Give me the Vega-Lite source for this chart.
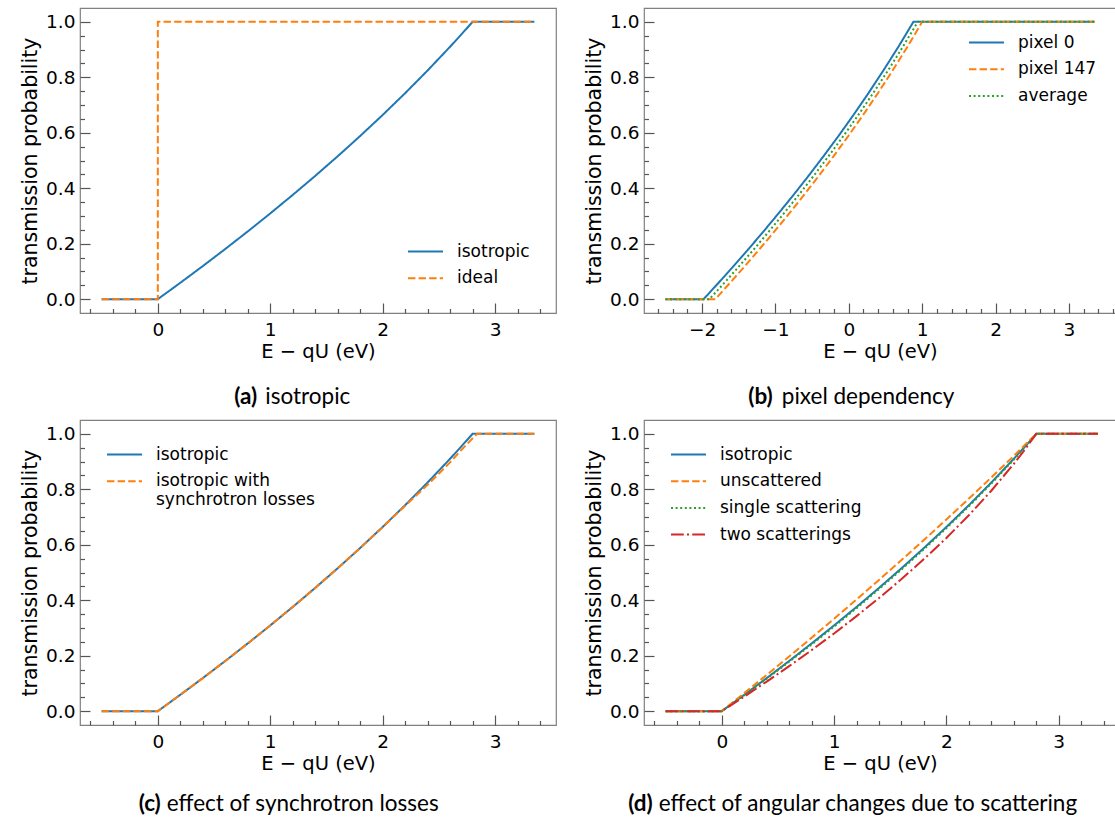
{
"$schema": "https://vega.github.io/schema/vega-lite/v6.json",
"padding": {"left": 19, "top": 7, "right": 0, "bottom": 0},
"background": "white",
"config": {
  "font": "DejaVu Sans",
  "view": {"stroke": "#808080", "strokeWidth": 1.2},
  "axis": {"domain": false, "grid": false, "labelFont": "DejaVu Sans", "labelFontSize": 18.5, "labelColor": "#000", "titleFont": "DejaVu Sans", "titleFontSize": 19.5, "titleFontWeight": "normal", "titleColor": "#000", "tickColor": "#555", "tickWidth": 1.2},
  "axisLeft": {"titleFontSize": 20.5},
  "legend": {"labelFont": "DejaVu Sans", "labelFontSize": 17, "labelColor": "#000", "symbolStrokeWidth": 2, "symbolSize": 1225, "symbolType": "stroke", "clipHeight": 17, "rowPadding": 8.7, "labelOffset": 13, "padding": 0, "offset": 26, "labelLimit": 300},
  "title": {"font": "Lato", "fontSize": 22.5, "color": "#000"}
},
"datasets": {
 "a": [
  {"s":"isotropic","i":0,"x":-0.5,"y":0},{"s":"isotropic","i":1,"x":0,"y":0},{"s":"isotropic","i":2,"x":0.2,"y":0.0589},{"s":"isotropic","i":3,"x":0.4,"y":0.1192},{"s":"isotropic","i":4,"x":0.6,"y":0.1809},{"s":"isotropic","i":5,"x":0.8,"y":0.2442},{"s":"isotropic","i":6,"x":1,"y":0.3091},{"s":"isotropic","i":7,"x":1.2,"y":0.3758},{"s":"isotropic","i":8,"x":1.4,"y":0.4444},{"s":"isotropic","i":9,"x":1.6,"y":0.5152},{"s":"isotropic","i":10,"x":1.8,"y":0.5883},{"s":"isotropic","i":11,"x":2,"y":0.6641},{"s":"isotropic","i":12,"x":2.2,"y":0.7427},{"s":"isotropic","i":13,"x":2.4,"y":0.8246},{"s":"isotropic","i":14,"x":2.6,"y":0.9102},{"s":"isotropic","i":15,"x":2.7,"y":0.9545},{"s":"isotropic","i":16,"x":2.8,"y":1},{"s":"isotropic","i":17,"x":3.35,"y":1},
  {"s":"ideal","i":0,"x":-0.5,"y":0},{"s":"ideal","i":1,"x":0,"y":0},{"s":"ideal","i":2,"x":0,"y":1},{"s":"ideal","i":3,"x":3.35,"y":1}
 ],
 "b": [
  {"s":"pixel 0","i":0,"x":-2.5,"y":0},{"s":"pixel 0","i":1,"x":-1.98,"y":0},{"s":"pixel 0","i":2,"x":-1.776,"y":0.0589},{"s":"pixel 0","i":3,"x":-1.571,"y":0.1192},{"s":"pixel 0","i":4,"x":-1.367,"y":0.1809},{"s":"pixel 0","i":5,"x":-1.163,"y":0.2442},{"s":"pixel 0","i":6,"x":-0.959,"y":0.3091},{"s":"pixel 0","i":7,"x":-0.754,"y":0.3758},{"s":"pixel 0","i":8,"x":-0.55,"y":0.4444},{"s":"pixel 0","i":9,"x":-0.346,"y":0.5152},{"s":"pixel 0","i":10,"x":-0.141,"y":0.5883},{"s":"pixel 0","i":11,"x":0.063,"y":0.6641},{"s":"pixel 0","i":12,"x":0.267,"y":0.7427},{"s":"pixel 0","i":13,"x":0.471,"y":0.8246},{"s":"pixel 0","i":14,"x":0.676,"y":0.9102},{"s":"pixel 0","i":15,"x":0.88,"y":1},{"s":"pixel 0","i":16,"x":3.35,"y":1},
  {"s":"pixel 147","i":0,"x":-2.5,"y":0},{"s":"pixel 147","i":1,"x":-1.82,"y":0},{"s":"pixel 147","i":2,"x":-1.619,"y":0.0589},{"s":"pixel 147","i":3,"x":-1.417,"y":0.1192},{"s":"pixel 147","i":4,"x":-1.216,"y":0.1809},{"s":"pixel 147","i":5,"x":-1.014,"y":0.2442},{"s":"pixel 147","i":6,"x":-0.813,"y":0.3091},{"s":"pixel 147","i":7,"x":-0.611,"y":0.3758},{"s":"pixel 147","i":8,"x":-0.41,"y":0.4444},{"s":"pixel 147","i":9,"x":-0.209,"y":0.5152},{"s":"pixel 147","i":10,"x":-0.007,"y":0.5883},{"s":"pixel 147","i":11,"x":0.194,"y":0.6641},{"s":"pixel 147","i":12,"x":0.396,"y":0.7427},{"s":"pixel 147","i":13,"x":0.597,"y":0.8246},{"s":"pixel 147","i":14,"x":0.799,"y":0.9102},{"s":"pixel 147","i":15,"x":1.0,"y":1},{"s":"pixel 147","i":16,"x":3.35,"y":1},
  {"s":"average","i":0,"x":-2.5,"y":0},{"s":"average","i":1,"x":-1.9,"y":0},{"s":"average","i":2,"x":-1.697,"y":0.0589},{"s":"average","i":3,"x":-1.494,"y":0.1192},{"s":"average","i":4,"x":-1.291,"y":0.1809},{"s":"average","i":5,"x":-1.089,"y":0.2442},{"s":"average","i":6,"x":-0.886,"y":0.3091},{"s":"average","i":7,"x":-0.683,"y":0.3758},{"s":"average","i":8,"x":-0.48,"y":0.4444},{"s":"average","i":9,"x":-0.277,"y":0.5152},{"s":"average","i":10,"x":-0.074,"y":0.5883},{"s":"average","i":11,"x":0.129,"y":0.6641},{"s":"average","i":12,"x":0.331,"y":0.7427},{"s":"average","i":13,"x":0.534,"y":0.8246},{"s":"average","i":14,"x":0.737,"y":0.9102},{"s":"average","i":15,"x":0.94,"y":1},{"s":"average","i":16,"x":3.35,"y":1}
 ],
 "c": [
  {"s":"isotropic","i":0,"x":-0.5,"y":0},{"s":"isotropic","i":1,"x":0,"y":0},{"s":"isotropic","i":2,"x":0.2,"y":0.0589},{"s":"isotropic","i":3,"x":0.4,"y":0.1192},{"s":"isotropic","i":4,"x":0.6,"y":0.1809},{"s":"isotropic","i":5,"x":0.8,"y":0.2442},{"s":"isotropic","i":6,"x":1,"y":0.3091},{"s":"isotropic","i":7,"x":1.2,"y":0.3758},{"s":"isotropic","i":8,"x":1.4,"y":0.4444},{"s":"isotropic","i":9,"x":1.6,"y":0.5152},{"s":"isotropic","i":10,"x":1.8,"y":0.5883},{"s":"isotropic","i":11,"x":2,"y":0.6641},{"s":"isotropic","i":12,"x":2.2,"y":0.7427},{"s":"isotropic","i":13,"x":2.4,"y":0.8246},{"s":"isotropic","i":14,"x":2.6,"y":0.9102},{"s":"isotropic","i":15,"x":2.7,"y":0.9545},{"s":"isotropic","i":16,"x":2.8,"y":1},{"s":"isotropic","i":17,"x":3.35,"y":1},
  {"s":"isotropic with synchrotron losses","i":0,"x":-0.5,"y":0},{"s":"isotropic with synchrotron losses","i":1,"x":0,"y":0},{"s":"isotropic with synchrotron losses","i":2,"x":0.2,"y":0.0589},{"s":"isotropic with synchrotron losses","i":3,"x":0.4,"y":0.1192},{"s":"isotropic with synchrotron losses","i":4,"x":0.6,"y":0.1809},{"s":"isotropic with synchrotron losses","i":5,"x":0.8,"y":0.2442},{"s":"isotropic with synchrotron losses","i":6,"x":1,"y":0.3091},{"s":"isotropic with synchrotron losses","i":7,"x":1.2,"y":0.3758},{"s":"isotropic with synchrotron losses","i":8,"x":1.4,"y":0.4444},{"s":"isotropic with synchrotron losses","i":9,"x":1.6,"y":0.5152},{"s":"isotropic with synchrotron losses","i":10,"x":1.8,"y":0.5883},{"s":"isotropic with synchrotron losses","i":11,"x":2,"y":0.6635},{"s":"isotropic with synchrotron losses","i":12,"x":2.2,"y":0.7405},{"s":"isotropic with synchrotron losses","i":13,"x":2.4,"y":0.816},{"s":"isotropic with synchrotron losses","i":14,"x":2.6,"y":0.897},{"s":"isotropic with synchrotron losses","i":15,"x":2.7,"y":0.942},{"s":"isotropic with synchrotron losses","i":16,"x":2.84,"y":1},{"s":"isotropic with synchrotron losses","i":17,"x":3.35,"y":1}
 ],
 "d": [
  {"s":"isotropic","i":0,"x":-0.5,"y":0},{"s":"isotropic","i":1,"x":0,"y":0},{"s":"isotropic","i":2,"x":0.2,"y":0.0589},{"s":"isotropic","i":3,"x":0.4,"y":0.1192},{"s":"isotropic","i":4,"x":0.6,"y":0.1809},{"s":"isotropic","i":5,"x":0.8,"y":0.2442},{"s":"isotropic","i":6,"x":1,"y":0.3091},{"s":"isotropic","i":7,"x":1.2,"y":0.3758},{"s":"isotropic","i":8,"x":1.4,"y":0.4444},{"s":"isotropic","i":9,"x":1.6,"y":0.5152},{"s":"isotropic","i":10,"x":1.8,"y":0.5883},{"s":"isotropic","i":11,"x":2,"y":0.6641},{"s":"isotropic","i":12,"x":2.2,"y":0.7427},{"s":"isotropic","i":13,"x":2.4,"y":0.8246},{"s":"isotropic","i":14,"x":2.6,"y":0.9102},{"s":"isotropic","i":15,"x":2.7,"y":0.9545},{"s":"isotropic","i":16,"x":2.8,"y":1},{"s":"isotropic","i":17,"x":3.35,"y":1},
  {"s":"unscattered","i":0,"x":-0.5,"y":0},{"s":"unscattered","i":1,"x":0,"y":0},{"s":"unscattered","i":2,"x":0.2,"y":0.0649},{"s":"unscattered","i":3,"x":0.4,"y":0.1307},{"s":"unscattered","i":4,"x":0.6,"y":0.1973},{"s":"unscattered","i":5,"x":0.8,"y":0.2648},{"s":"unscattered","i":6,"x":1,"y":0.3333},{"s":"unscattered","i":7,"x":1.2,"y":0.4028},{"s":"unscattered","i":8,"x":1.4,"y":0.4733},{"s":"unscattered","i":9,"x":1.6,"y":0.5448},{"s":"unscattered","i":10,"x":1.8,"y":0.6175},{"s":"unscattered","i":11,"x":2,"y":0.6914},{"s":"unscattered","i":12,"x":2.2,"y":0.7665},{"s":"unscattered","i":13,"x":2.4,"y":0.8429},{"s":"unscattered","i":14,"x":2.6,"y":0.9207},{"s":"unscattered","i":15,"x":2.8,"y":1},{"s":"unscattered","i":16,"x":3.35,"y":1},
  {"s":"single scattering","i":0,"x":-0.5,"y":0},{"s":"single scattering","i":1,"x":0,"y":0},{"s":"single scattering","i":2,"x":0.2,"y":0.0575},{"s":"single scattering","i":3,"x":0.4,"y":0.117},{"s":"single scattering","i":4,"x":0.6,"y":0.178},{"s":"single scattering","i":5,"x":0.8,"y":0.2405},{"s":"single scattering","i":6,"x":1,"y":0.305},{"s":"single scattering","i":7,"x":1.2,"y":0.3715},{"s":"single scattering","i":8,"x":1.4,"y":0.44},{"s":"single scattering","i":9,"x":1.6,"y":0.511},{"s":"single scattering","i":10,"x":1.8,"y":0.584},{"s":"single scattering","i":11,"x":2,"y":0.66},{"s":"single scattering","i":12,"x":2.2,"y":0.739},{"s":"single scattering","i":13,"x":2.4,"y":0.821},{"s":"single scattering","i":14,"x":2.6,"y":0.907},{"s":"single scattering","i":15,"x":2.7,"y":0.952},{"s":"single scattering","i":16,"x":2.8,"y":1},{"s":"single scattering","i":17,"x":3.35,"y":1},
  {"s":"two scatterings","i":0,"x":-0.5,"y":0},{"s":"two scatterings","i":1,"x":0,"y":0},{"s":"two scatterings","i":2,"x":0.2,"y":0.0524},{"s":"two scatterings","i":3,"x":0.4,"y":0.1065},{"s":"two scatterings","i":4,"x":0.6,"y":0.1623},{"s":"two scatterings","i":5,"x":0.8,"y":0.2201},{"s":"two scatterings","i":6,"x":1,"y":0.2801},{"s":"two scatterings","i":7,"x":1.2,"y":0.3426},{"s":"two scatterings","i":8,"x":1.4,"y":0.4078},{"s":"two scatterings","i":9,"x":1.6,"y":0.4762},{"s":"two scatterings","i":10,"x":1.8,"y":0.5483},{"s":"two scatterings","i":11,"x":2,"y":0.6247},{"s":"two scatterings","i":12,"x":2.2,"y":0.7065},{"s":"two scatterings","i":13,"x":2.4,"y":0.7949},{"s":"two scatterings","i":14,"x":2.6,"y":0.8917},{"s":"two scatterings","i":15,"x":2.7,"y":0.9441},{"s":"two scatterings","i":16,"x":2.8,"y":1},{"s":"two scatterings","i":17,"x":3.35,"y":1}
 ]
},
"columns": 2,
"align": "none",
"spacing": {"row": 10, "column": 26},
"resolve": {"scale": {"color": "independent", "strokeDash": "independent"}, "legend": {"color": "independent", "strokeDash": "independent"}},
"concat": [
   {
    "title": {"text": "(a)", "orient": "bottom", "anchor": "middle", "align": "right", "dx": -31, "dy": -22.5, "offset": 0, "frame": "bounds", "fontWeight": "bold"},
    "resolve": {"scale": {"color": "independent", "strokeDash": "independent"}, "legend": {"color": "independent", "strokeDash": "independent"}},
    "vconcat": [
     {
      "title": {"text": "isotropic", "orient": "bottom", "anchor": "middle", "align": "left", "dx": -23, "offset": 24, "frame": "bounds", "fontWeight": "normal"},
      "resolve": {"scale": {"color": "independent", "strokeDash": "independent"}, "legend": {"color": "independent", "strokeDash": "independent"}},
      "vconcat": [
       {
        "data": {"name": "a"},
        "width": 476, "height": 305,
        "encoding": {
          "x": {"field": "x", "type": "quantitative", "scale": {"domain": [-0.6925, 3.5425], "nice": false, "zero": false}, "axis": null},
          "y": {"field": "y", "type": "quantitative", "scale": {"domain": [-0.05, 1.05], "nice": false, "zero": false}, "axis": null},
          "color": {"field": "s", "type": "nominal", "scale": {"domain": ["isotropic", "ideal"], "range": ["#1f77b4", "#ff7f0e"]}, "legend": {"title": null, "orient": "bottom-right"}},
          "strokeDash": {"field": "s", "type": "nominal", "scale": {"domain": ["isotropic", "ideal"], "range": [[1, 0], [7.4, 3.2]]}, "legend": {"title": null, "orient": "bottom-right"}},
          "order": {"field": "i", "type": "quantitative"}
        },
        "layer": [
          {"transform": [{"filter": {"field": "s", "equal": "isotropic"}}], "mark": {"type": "line", "strokeWidth": 2},
           "encoding": {
            "x": {"field": "x", "type": "quantitative", "scale": {"domain": [-0.6925, 3.5425], "nice": false, "zero": false}, "axis": {"orient": "bottom", "values": [0, 1, 2, 3], "format": "d", "tickSize": -10, "labelPadding": 17, "title": "E − qU (eV)", "titlePadding": 4}},
            "y": {"field": "y", "type": "quantitative", "scale": {"domain": [-0.05, 1.05], "nice": false, "zero": false}, "axis": {"orient": "left", "values": [0, 0.2, 0.4, 0.6, 0.8, 1], "format": ".1f", "tickSize": -10, "labelPadding": 15, "title": "transmission probability", "titlePadding": 5}}
           }},
          {"transform": [{"filter": {"field": "s", "equal": "ideal"}}], "mark": {"type": "line", "strokeWidth": 2},
           "encoding": {
            "x": {"field": "x", "type": "quantitative", "scale": {"domain": [-0.6925, 3.5425], "nice": false, "zero": false}, "axis": {"orient": "bottom", "values": [-0.6, -0.4, -0.2, 0.2, 0.4, 0.6, 0.8, 1.2, 1.4, 1.6, 1.8, 2.2, 2.4, 2.6, 2.8, 3.2, 3.4], "labels": false, "tickSize": -4.5, "title": null}},
            "y": {"field": "y", "type": "quantitative", "scale": {"domain": [-0.05, 1.05], "nice": false, "zero": false}, "axis": {"orient": "left", "values": [0.05, 0.1, 0.15, 0.25, 0.3, 0.35, 0.45, 0.5, 0.55, 0.65, 0.7, 0.75, 0.85, 0.9, 0.95], "labels": false, "tickSize": -4.5, "title": null}}
           }}
        ],
        "resolve": {"axis": {"x": "independent", "y": "independent"}}
       }
      ]
     }
    ]
   },
   {
    "title": {"text": "(b)", "orient": "bottom", "anchor": "middle", "align": "right", "dx": -77.5, "dy": -22.5, "offset": 0, "frame": "bounds", "fontWeight": "bold"},
    "resolve": {"scale": {"color": "independent", "strokeDash": "independent"}, "legend": {"color": "independent", "strokeDash": "independent"}},
    "vconcat": [
     {
      "title": {"text": "pixel dependency", "orient": "bottom", "anchor": "middle", "align": "left", "dx": -68.5, "offset": 24, "frame": "bounds", "fontWeight": "normal"},
      "resolve": {"scale": {"color": "independent", "strokeDash": "independent"}, "legend": {"color": "independent", "strokeDash": "independent"}},
      "vconcat": [
       {
        "data": {"name": "b"},
        "width": 472, "height": 305,
        "encoding": {
          "x": {"field": "x", "type": "quantitative", "scale": {"domain": [-2.7925, 3.6425], "nice": false, "zero": false}, "axis": null},
          "y": {"field": "y", "type": "quantitative", "scale": {"domain": [-0.05, 1.05], "nice": false, "zero": false}, "axis": null},
          "color": {"field": "s", "type": "nominal", "scale": {"domain": ["pixel 0", "pixel 147", "average"], "range": ["#1f77b4", "#ff7f0e", "#2ca02c"]}, "legend": {"title": null, "orient": "none", "legendX": 324, "legendY": 26}},
          "strokeDash": {"field": "s", "type": "nominal", "scale": {"domain": ["pixel 0", "pixel 147", "average"], "range": [[1, 0], [7.4, 3.2], [2, 2.6]]}, "legend": {"title": null, "orient": "none", "legendX": 324, "legendY": 26}},
          "order": {"field": "i", "type": "quantitative"}
        },
        "layer": [
          {"transform": [{"filter": {"field": "s", "equal": "pixel 0"}}], "mark": {"type": "line", "strokeWidth": 2},
           "encoding": {
            "x": {"field": "x", "type": "quantitative", "scale": {"domain": [-2.7925, 3.6425], "nice": false, "zero": false}, "axis": {"orient": "bottom", "values": [-2, -1, 0, 1, 2, 3], "format": "d", "tickSize": -10, "labelPadding": 17, "title": "E − qU (eV)", "titlePadding": 4}},
            "y": {"field": "y", "type": "quantitative", "scale": {"domain": [-0.05, 1.05], "nice": false, "zero": false}, "axis": {"orient": "left", "values": [0, 0.2, 0.4, 0.6, 0.8, 1], "format": ".1f", "tickSize": -10, "labelPadding": 15, "title": "transmission probability", "titlePadding": 5}}
           }},
          {"transform": [{"filter": {"field": "s", "equal": "pixel 147"}}], "mark": {"type": "line", "strokeWidth": 2},
           "encoding": {
            "x": {"field": "x", "type": "quantitative", "scale": {"domain": [-2.7925, 3.6425], "nice": false, "zero": false}, "axis": {"orient": "bottom", "values": [-2.6, -2.4, -2.2, -1.8, -1.6, -1.4, -1.2, -0.8, -0.6, -0.4, -0.2, 0.2, 0.4, 0.6, 0.8, 1.2, 1.4, 1.6, 1.8, 2.2, 2.4, 2.6, 2.8, 3.2, 3.4, 3.6], "labels": false, "tickSize": -4.5, "title": null}},
            "y": {"field": "y", "type": "quantitative", "scale": {"domain": [-0.05, 1.05], "nice": false, "zero": false}, "axis": {"orient": "left", "values": [0.05, 0.1, 0.15, 0.25, 0.3, 0.35, 0.45, 0.5, 0.55, 0.65, 0.7, 0.75, 0.85, 0.9, 0.95], "labels": false, "tickSize": -4.5, "title": null}}
           }},
          {"transform": [{"filter": {"field": "s", "equal": "average"}}], "mark": {"type": "line", "strokeWidth": 2}}
        ],
        "resolve": {"axis": {"x": "independent", "y": "independent"}}
       }
      ]
     }
    ]
   },
   {
    "title": {"text": "(c)", "orient": "bottom", "anchor": "middle", "align": "right", "dx": -127.5, "dy": -22.5, "offset": 0, "frame": "bounds", "fontWeight": "bold"},
    "resolve": {"scale": {"color": "independent", "strokeDash": "independent"}, "legend": {"color": "independent", "strokeDash": "independent"}},
    "vconcat": [
     {
      "title": {"text": "effect of synchrotron losses", "orient": "bottom", "anchor": "middle", "align": "left", "dx": -121.5, "offset": 19, "frame": "bounds", "fontWeight": "normal"},
      "resolve": {"scale": {"color": "independent", "strokeDash": "independent"}, "legend": {"color": "independent", "strokeDash": "independent"}},
      "vconcat": [
       {
        "data": {"name": "c"},
        "width": 476, "height": 305,
        "encoding": {
          "x": {"field": "x", "type": "quantitative", "scale": {"domain": [-0.6925, 3.5425], "nice": false, "zero": false}, "axis": null},
          "y": {"field": "y", "type": "quantitative", "scale": {"domain": [-0.05, 1.05], "nice": false, "zero": false}, "axis": null},
          "color": {"field": "s", "type": "nominal", "scale": {"domain": ["isotropic", "isotropic with synchrotron losses"], "range": ["#1f77b4", "#ff7f0e"]}, "legend": {"title": null, "orient": "top-left", "labelExpr": "datum.label == 'isotropic with synchrotron losses' ? ['isotropic with', 'synchrotron losses'] : datum.label"}},
          "strokeDash": {"field": "s", "type": "nominal", "scale": {"domain": ["isotropic", "isotropic with synchrotron losses"], "range": [[1, 0], [7.4, 3.2]]}, "legend": {"title": null, "orient": "top-left", "labelExpr": "datum.label == 'isotropic with synchrotron losses' ? ['isotropic with', 'synchrotron losses'] : datum.label"}},
          "order": {"field": "i", "type": "quantitative"}
        },
        "layer": [
          {"transform": [{"filter": {"field": "s", "equal": "isotropic"}}], "mark": {"type": "line", "strokeWidth": 2},
           "encoding": {
            "x": {"field": "x", "type": "quantitative", "scale": {"domain": [-0.6925, 3.5425], "nice": false, "zero": false}, "axis": {"orient": "bottom", "values": [0, 1, 2, 3], "format": "d", "tickSize": -10, "labelPadding": 17, "title": "E − qU (eV)", "titlePadding": 4}},
            "y": {"field": "y", "type": "quantitative", "scale": {"domain": [-0.05, 1.05], "nice": false, "zero": false}, "axis": {"orient": "left", "values": [0, 0.2, 0.4, 0.6, 0.8, 1], "format": ".1f", "tickSize": -10, "labelPadding": 15, "title": "transmission probability", "titlePadding": 5}}
           }},
          {"transform": [{"filter": {"field": "s", "equal": "isotropic with synchrotron losses"}}], "mark": {"type": "line", "strokeWidth": 2},
           "encoding": {
            "x": {"field": "x", "type": "quantitative", "scale": {"domain": [-0.6925, 3.5425], "nice": false, "zero": false}, "axis": {"orient": "bottom", "values": [-0.6, -0.4, -0.2, 0.2, 0.4, 0.6, 0.8, 1.2, 1.4, 1.6, 1.8, 2.2, 2.4, 2.6, 2.8, 3.2, 3.4], "labels": false, "tickSize": -4.5, "title": null}},
            "y": {"field": "y", "type": "quantitative", "scale": {"domain": [-0.05, 1.05], "nice": false, "zero": false}, "axis": {"orient": "left", "values": [0.05, 0.1, 0.15, 0.25, 0.3, 0.35, 0.45, 0.5, 0.55, 0.65, 0.7, 0.75, 0.85, 0.9, 0.95], "labels": false, "tickSize": -4.5, "title": null}}
           }}
        ],
        "resolve": {"axis": {"x": "independent", "y": "independent"}}
       }
      ]
     }
    ]
   },
   {
    "title": {"text": "(d)", "orient": "bottom", "anchor": "middle", "align": "right", "dx": -197.5, "dy": -22.5, "offset": 0, "frame": "bounds", "fontWeight": "bold"},
    "resolve": {"scale": {"color": "independent", "strokeDash": "independent"}, "legend": {"color": "independent", "strokeDash": "independent"}},
    "vconcat": [
     {
      "title": {"text": "effect of angular changes due to scattering", "orient": "bottom", "anchor": "middle", "align": "left", "dx": -191.5, "offset": 19, "frame": "bounds", "fontWeight": "normal"},
      "resolve": {"scale": {"color": "independent", "strokeDash": "independent"}, "legend": {"color": "independent", "strokeDash": "independent"}},
      "vconcat": [
       {
        "data": {"name": "d"},
        "width": 472, "height": 305,
        "encoding": {
          "x": {"field": "x", "type": "quantitative", "scale": {"domain": [-0.6925, 3.51], "nice": false, "zero": false}, "axis": null},
          "y": {"field": "y", "type": "quantitative", "scale": {"domain": [-0.05, 1.05], "nice": false, "zero": false}, "axis": null},
          "color": {"field": "s", "type": "nominal", "scale": {"domain": ["isotropic", "unscattered", "single scattering", "two scatterings"], "range": ["#1f77b4", "#ff7f0e", "#2ca02c", "#d62728"]}, "legend": {"title": null, "orient": "top-left"}},
          "strokeDash": {"field": "s", "type": "nominal", "scale": {"domain": ["isotropic", "unscattered", "single scattering", "two scatterings"], "range": [[1, 0], [7.4, 3.2], [2, 2.6], [12.8, 3.2, 2, 3.2]]}, "legend": {"title": null, "orient": "top-left"}},
          "order": {"field": "i", "type": "quantitative"}
        },
        "layer": [
          {"transform": [{"filter": {"field": "s", "equal": "isotropic"}}], "mark": {"type": "line", "strokeWidth": 2},
           "encoding": {
            "x": {"field": "x", "type": "quantitative", "scale": {"domain": [-0.6925, 3.51], "nice": false, "zero": false}, "axis": {"orient": "bottom", "values": [0, 1, 2, 3], "format": "d", "tickSize": -10, "labelPadding": 17, "title": "E − qU (eV)", "titlePadding": 4}},
            "y": {"field": "y", "type": "quantitative", "scale": {"domain": [-0.05, 1.05], "nice": false, "zero": false}, "axis": {"orient": "left", "values": [0, 0.2, 0.4, 0.6, 0.8, 1], "format": ".1f", "tickSize": -10, "labelPadding": 15, "title": "transmission probability", "titlePadding": 5}}
           }},
          {"transform": [{"filter": {"field": "s", "equal": "unscattered"}}], "mark": {"type": "line", "strokeWidth": 2},
           "encoding": {
            "x": {"field": "x", "type": "quantitative", "scale": {"domain": [-0.6925, 3.51], "nice": false, "zero": false}, "axis": {"orient": "bottom", "values": [-0.6, -0.4, -0.2, 0.2, 0.4, 0.6, 0.8, 1.2, 1.4, 1.6, 1.8, 2.2, 2.4, 2.6, 2.8, 3.2, 3.4], "labels": false, "tickSize": -4.5, "title": null}},
            "y": {"field": "y", "type": "quantitative", "scale": {"domain": [-0.05, 1.05], "nice": false, "zero": false}, "axis": {"orient": "left", "values": [0.05, 0.1, 0.15, 0.25, 0.3, 0.35, 0.45, 0.5, 0.55, 0.65, 0.7, 0.75, 0.85, 0.9, 0.95], "labels": false, "tickSize": -4.5, "title": null}}
           }},
          {"transform": [{"filter": {"field": "s", "equal": "single scattering"}}], "mark": {"type": "line", "strokeWidth": 2}},
          {"transform": [{"filter": {"field": "s", "equal": "two scatterings"}}], "mark": {"type": "line", "strokeWidth": 2}}
        ],
        "resolve": {"axis": {"x": "independent", "y": "independent"}}
       }
      ]
     }
    ]
   }
]
}
